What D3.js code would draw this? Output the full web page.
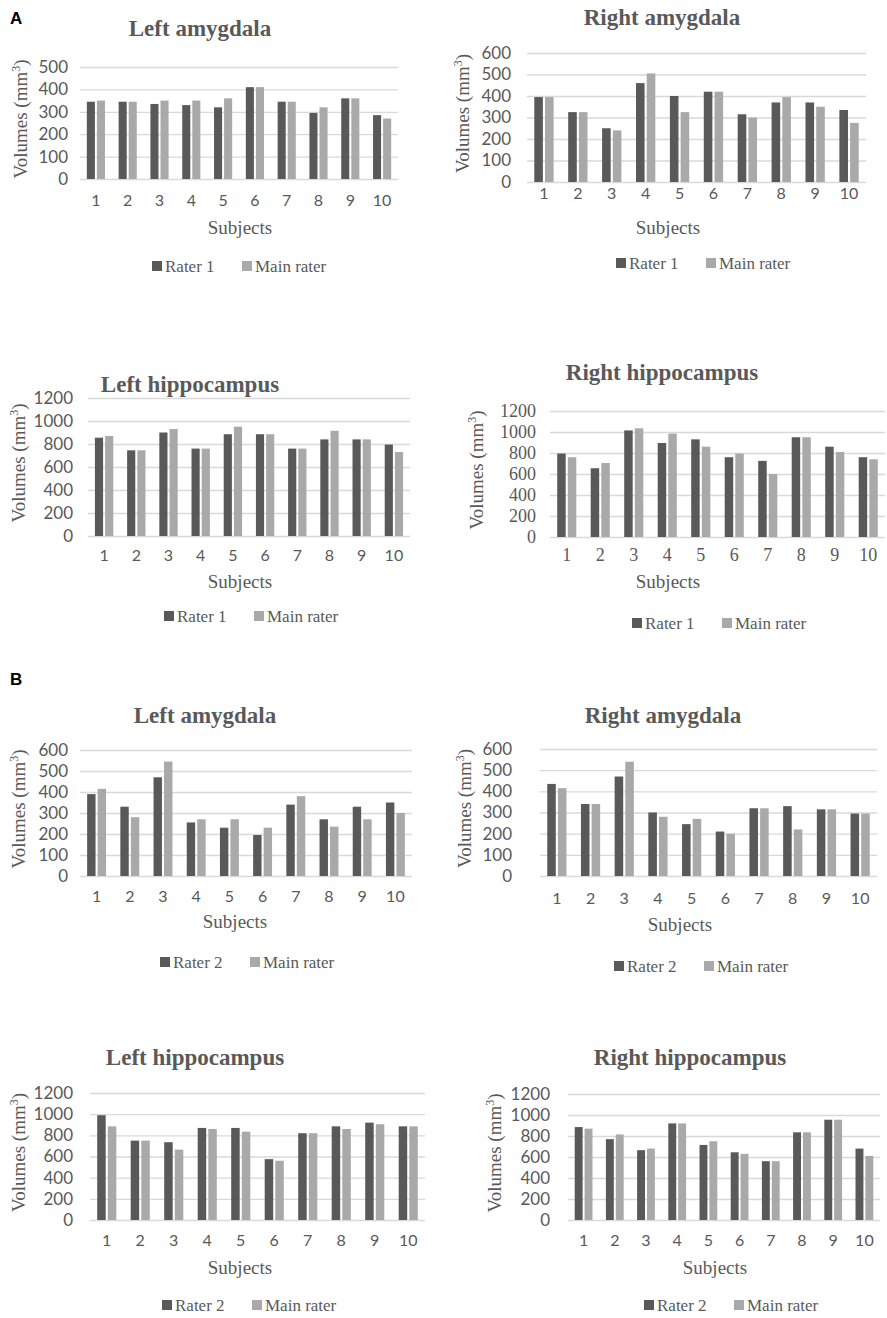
<!DOCTYPE html>
<html>
<head>
<meta charset="utf-8">
<script src="https://cdn.jsdelivr.net/npm/d3@7"></script>
<style>
  body { margin: 0; background: #fff; }
  svg { display: block; }
</style>
</head>
<body>
<div id="chart"></div>
<script>
// subjects on the x axis
const subjects = ["1", "2", "3", "4", "5", "6", "7", "8", "9", "10"];

// panel A: rater 1 vs main rater
const aLeftAmygRater1 = [345, 345, 335, 330, 320, 410, 345, 295, 360, 285];
const aLeftAmygMain = [350, 345, 350, 350, 360, 410, 345, 320, 360, 270];
const aRightAmygRater1 = [395, 325, 250, 460, 400, 420, 315, 370, 370, 335];
const aRightAmygMain = [395, 325, 240, 505, 325, 420, 300, 395, 350, 275];
const aLeftHippRater1 = [855, 745, 900, 760, 885, 885, 760, 840, 840, 795];
const aLeftHippMain = [870, 745, 930, 760, 950, 885, 760, 915, 840, 730];
const aRightHippRater1 = [795, 655, 1015, 895, 930, 760, 725, 950, 860, 760];
const aRightHippMain = [760, 705, 1035, 985, 860, 795, 600, 950, 810, 740];

// panel B: rater 2 vs main rater
const bLeftAmygRater2 = [390, 330, 470, 255, 230, 195, 340, 270, 330, 350];
const bLeftAmygMain = [415, 280, 545, 270, 270, 230, 380, 235, 270, 300];
const bRightAmygRater2 = [435, 340, 470, 300, 245, 210, 320, 330, 315, 295];
const bRightAmygMain = [415, 340, 540, 280, 270, 200, 320, 220, 315, 295];
const bLeftHippRater2 = [990, 750, 735, 870, 870, 575, 820, 885, 920, 885];
const bLeftHippMain = [885, 750, 665, 860, 835, 560, 820, 860, 905, 885];
const bRightHippRater2 = [885, 770, 665, 920, 715, 645, 560, 835, 955, 680];
const bRightHippMain = [870, 815, 680, 920, 750, 630, 560, 835, 955, 610];

const amygTicks = [0, 100, 200, 300, 400, 500, 600];
const hippTicks = [0, 200, 400, 600, 800, 1000, 1200];

const darkGray = "#595959";
const lightGray = "#a9a9a9";
const textGray = "#595959";
const serif = "'Liberation Serif', 'Times New Roman', serif";
const sans = "Lato, 'Open Sans', sans-serif";

const svg = d3.select("#chart").append("svg")
  .attr("width", 887)
  .attr("height", 1318);

// panel letters
svg.append("text").attr("x", 10).attr("y", 24).text("A")
  .style("font-family", "'Liberation Sans', Arial, sans-serif")
  .style("font-weight", "bold").style("font-size", "17px");
svg.append("text").attr("x", 10).attr("y", 685).text("B")
  .style("font-family", "'Liberation Sans', Arial, sans-serif")
  .style("font-weight", "bold").style("font-size", "17px");

const panels = [
  { title: "Left amygdala", r1: aLeftAmygRater1, main: aLeftAmygMain, raterName: "Rater 1",
    ticks: amygTicks.slice(0, 6), left: 80, right: 398, top: 67, bottom: 179,
    labelRight: 68, titleX: 200, titleY: 36, yLabelX: 20, xTickY: 206,
    subjX: 240, subjY: 234, legX: 236, legY: 272, tickFont: sans },
  { title: "Right amygdala", r1: aRightAmygRater1, main: aRightAmygMain, raterName: "Rater 1",
    ticks: amygTicks, left: 527, right: 866, top: 53, bottom: 182,
    labelRight: 511, titleX: 662, titleY: 25, yLabelX: 462, xTickY: 199,
    subjX: 668, subjY: 234, legX: 700, legY: 269, tickFont: sans },
  { title: "Left hippocampus", r1: aLeftHippRater1, main: aLeftHippMain, raterName: "Rater 1",
    ticks: hippTicks, left: 88, right: 410, top: 398, bottom: 536,
    labelRight: 73, titleX: 190, titleY: 392, yLabelX: 18, xTickY: 561,
    subjX: 240, subjY: 588, legX: 248, legY: 622, tickFont: sans },
  { title: "Right hippocampus", r1: aRightHippRater1, main: aRightHippMain, raterName: "Rater 1",
    ticks: hippTicks, left: 550, right: 885, top: 411, bottom: 537,
    labelRight: 536, titleX: 662, titleY: 380, yLabelX: 476, xTickY: 561,
    subjX: 668, subjY: 588, legX: 716, legY: 629, tickFont: serif },
  { title: "Left amygdala", r1: bLeftAmygRater2, main: bLeftAmygMain, raterName: "Rater 2",
    ticks: amygTicks, left: 80, right: 412, top: 750, bottom: 876,
    labelRight: 68, titleX: 205, titleY: 723, yLabelX: 18, xTickY: 902,
    subjX: 235, subjY: 928, legX: 244, legY: 968, tickFont: sans },
  { title: "Right amygdala", r1: bRightAmygRater2, main: bRightAmygMain, raterName: "Rater 2",
    ticks: amygTicks, left: 540, right: 877, top: 749, bottom: 876,
    labelRight: 512, titleX: 663, titleY: 723, yLabelX: 464, xTickY: 904,
    subjX: 680, subjY: 931, legX: 698, legY: 972, tickFont: sans },
  { title: "Left hippocampus", r1: bLeftHippRater2, main: bLeftHippMain, raterName: "Rater 2",
    ticks: hippTicks, left: 90, right: 425, top: 1093, bottom: 1220,
    labelRight: 73, titleX: 195, titleY: 1065, yLabelX: 18, xTickY: 1246,
    subjX: 240, subjY: 1274, legX: 246, legY: 1311, tickFont: sans },
  { title: "Right hippocampus", r1: bRightHippRater2, main: bRightHippMain, raterName: "Rater 2",
    ticks: hippTicks, left: 568, right: 880, top: 1094, bottom: 1220,
    labelRight: 550, titleX: 690, titleY: 1065, yLabelX: 494, xTickY: 1246,
    subjX: 715, subjY: 1274, legX: 728, legY: 1311, tickFont: sans },
];

function drawPanel(p) {
  const g = svg.append("g");
  const series = [p.raterName, "Main rater"];
  const colors = d3.scaleOrdinal().domain(series).range([darkGray, lightGray]);

  const x = d3.scaleBand().domain(subjects).range([p.left, p.right]);
  const bw = x.bandwidth();
  const xs = d3.scaleBand().domain(series)
    .range([bw * 0.215, bw * 0.785]).paddingInner(0.2);
  const y = d3.scaleLinear()
    .domain([0, d3.max(p.ticks)])
    .range([p.bottom, p.top]);

  // gridlines + y tick labels
  const yAxis = g.append("g")
    .attr("transform", `translate(${p.left},0)`)
    .call(d3.axisLeft(y).tickValues(p.ticks)
      .tickFormat(d3.format("d"))
      .tickSize(-(p.right - p.left))
      .tickPadding(p.left - p.labelRight));
  yAxis.select(".domain").remove();
  yAxis.selectAll("line").attr("stroke", "#d9d9d9").attr("stroke-width", 1.3);
  yAxis.selectAll("text")
    .style("font-family", p.tickFont)
    .style("font-size", p.tickFont === serif ? "18px" : "17px")
    .attr("fill", textGray);

  // bars
  const rows = subjects.map((s, i) => ({ subject: s, values: [p.r1[i], p.main[i]] }));
  g.selectAll("g.grp")
    .data(rows)
    .join("g")
    .attr("transform", (d) => `translate(${x(d.subject)},0)`)
    .selectAll("rect")
    .data((d) => d.values.map((v, k) => ({ key: series[k], value: v })))
    .join("rect")
    .attr("x", (d) => xs(d.key))
    .attr("width", xs.bandwidth())
    .attr("y", (d) => y(d.value))
    .attr("height", (d) => y(0) - y(d.value))
    .attr("fill", (d) => colors(d.key));

  // x tick labels
  const xAxis = g.append("g")
    .attr("transform", `translate(0,${p.xTickY})`)
    .call(d3.axisBottom(x).tickSize(0));
  xAxis.select(".domain").remove();
  xAxis.selectAll("text")
    .attr("y", 0).attr("dy", null)
    .style("font-family", p.tickFont)
    .style("font-size", p.tickFont === serif ? "18px" : "16px")
    .attr("fill", textGray);

  // title
  g.append("text")
    .attr("x", p.titleX).attr("y", p.titleY)
    .attr("text-anchor", "middle")
    .style("font-family", serif).style("font-weight", "bold")
    .style("font-size", "23px").attr("fill", textGray)
    .text(p.title);

  // y axis label
  const yl = g.append("text")
    .attr("transform", `translate(${p.yLabelX},${(p.top + p.bottom) / 2 - 4}) rotate(-90)`)
    .attr("text-anchor", "middle")
    .attr("dy", "0.35em")
    .style("font-family", serif).style("font-size", "19px")
    .attr("fill", textGray);
  yl.append("tspan").text("Volumes (mm");
  yl.append("tspan").attr("dy", -7).style("font-size", "12px").text("3");
  yl.append("tspan").attr("dy", 7).text(")");

  // x axis label
  g.append("text")
    .attr("x", p.subjX).attr("y", p.subjY)
    .attr("text-anchor", "middle")
    .style("font-family", serif).style("font-size", "19px")
    .attr("fill", textGray)
    .text("Subjects");

  // legend
  const leg = g.append("g").attr("transform", `translate(${p.legX},${p.legY})`);
  const items = [
    { key: series[0], dx: -84 },
    { key: series[1], dx: 6 },
  ];
  items.forEach((it) => {
    leg.append("rect")
      .attr("x", it.dx).attr("y", -11)
      .attr("width", 10).attr("height", 10)
      .attr("fill", colors(it.key));
    leg.append("text")
      .attr("x", it.dx + 13).attr("y", 0)
      .style("font-family", serif).style("font-size", "17px")
      .attr("fill", textGray)
      .text(it.key);
  });
}

panels.forEach(drawPanel);
</script>
</body>
</html>
